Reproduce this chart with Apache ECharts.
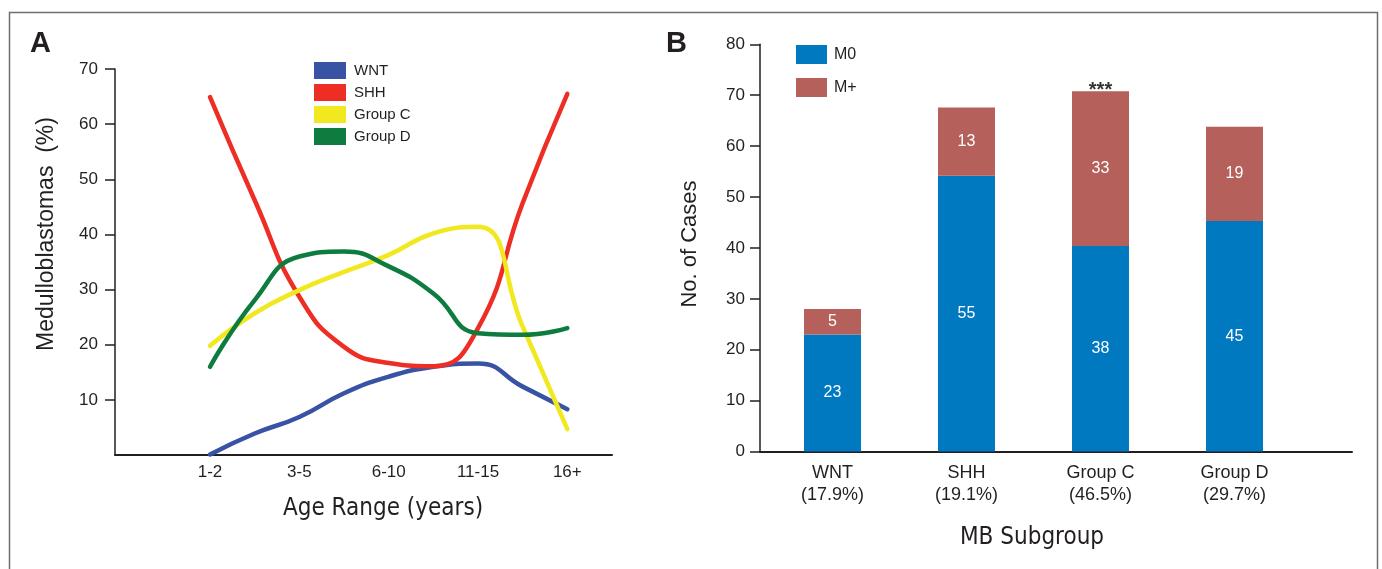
<!DOCTYPE html>
<html>
<head>
    <meta charset="utf-8">
    <title>Medulloblastoma subgroups</title>
    <script src="https://cdn.jsdelivr.net/npm/echarts@6/dist/echarts.min.js"></script>
    <style>
        html, body { margin: 0; padding: 0; background: #fff; }
    </style>
</head>
<body>
    <div id="main" style="width: 1382px;height:569px;"></div>
    <script type="text/javascript">
        // panel A - age distribution (%), curves read at every half age step
        var ageRanges = ['1-2', '3-5', '6-10', '11-15', '16+'];
        var curveX = [1, 1.5, 2, 2.5, 3, 3.5, 4, 4.5, 5];
        var wnt = [0.1, 3.9, 6.9, 11.2, 14.2, 16.0, 16.6, 12.4, 8.3];
        var shh = [64.9, 46.2, 28.7, 19.6, 16.7, 16.1, 23.0, 45.7, 65.5];
        var groupC = [19.8, 25.7, 29.9, 33.2, 36.3, 40.2, 41.4, 23.3, 4.7];
        var groupD = [16.0, 28.1, 36.0, 36.9, 34.2, 29.3, 22.1, 21.8, 23.0];
        var ageTicks = [10, 20, 30, 40, 50, 60, 70];

        // panel B - metastatic status
        var subgroups = ['WNT', 'SHH', 'Group C', 'Group D'];
        var subgroupPct = ['17.9%', '19.1%', '46.5%', '29.7%'];
        var m0 = [23, 54.2, 40.4, 45.3];
        var mPlus = [5, 13.4, 30.4, 18.5];
        var m0Labels = ['23', '55', '38', '45'];
        var mPlusLabels = ['5', '13', '33', '19'];
        var signif = ['', '', '***', ''];

        var dark = '#231f20';
        var sans = "'Liberation Sans', Arial, sans-serif";
        var narrow = "'Liberation Sans Narrow', 'DejaVu Sans Condensed', 'Liberation Sans', sans-serif";

        var myChart = echarts.init(document.getElementById('main'));

        function lineSeries(name, vals, color) {
            return {
                name: name,
                type: 'line',
                xAxisIndex: 0,
                yAxisIndex: 0,
                data: vals.map(function (v, i) { return [curveX[i], v]; }),
                smooth: 0.5,
                showSymbol: false,
                color: color,
                lineStyle: { width: 4.5, color: color, cap: 'round' },
                silent: true
            };
        }
        function barLabel(texts, pos) {
            return {
                show: true, position: pos || 'inside', color: '#fff', fontSize: 16, fontFamily: sans,
                formatter: function (p) { return texts[p.dataIndex]; }
            };
        }

        var option = {
            animation: false,
            graphic: [
                { type: 'rect', shape: { x: 9.5, y: 12.5, width: 1368, height: 620 },
                  style: { fill: 'none', stroke: '#6d6e71', lineWidth: 1.5 } },
                { type: 'text', x: 30, y: 29, style: { text: 'A', font: 'bold 29px ' + sans, fill: dark } },
                { type: 'text', x: 666, y: 29, style: { text: 'B', font: 'bold 29px ' + sans, fill: dark } },
                { type: 'text', x: 47, y: 234, rotation: Math.PI / 2,
                  style: { text: 'Medulloblastomas  (%)', font: '23px ' + sans, fill: dark, align: 'center', verticalAlign: 'middle' } },
                { type: 'text', x: 383, y: 509,
                  style: { text: 'Age Range (years)', font: '24px ' + narrow, fill: dark, align: 'center', verticalAlign: 'middle' } },
                { type: 'text', x: 690, y: 244, rotation: Math.PI / 2,
                  style: { text: 'No. of Cases', font: '22px ' + sans, fill: dark, align: 'center', verticalAlign: 'middle' } },
                { type: 'text', x: 1032, y: 538,
                  style: { text: 'MB Subgroup', font: '24px ' + narrow, fill: dark, align: 'center', verticalAlign: 'middle' } }
            ],
            legend: [{
                data: ['WNT', 'SHH', 'Group C', 'Group D'],
                orient: 'vertical',
                left: 314,
                top: 62,
                padding: 0,
                icon: 'rect',
                itemWidth: 32,
                itemHeight: 17,
                itemGap: 5,
                selectedMode: false,
                textStyle: { color: dark, fontSize: 15, fontFamily: sans, padding: [0, 0, 0, 3] }
            }, {
                data: ['M0', 'M+'],
                orient: 'vertical',
                left: 796,
                top: 45,
                padding: 0,
                icon: 'rect',
                itemWidth: 31,
                itemHeight: 19,
                itemGap: 14,
                selectedMode: false,
                textStyle: { color: dark, fontSize: 16, fontFamily: sans, padding: [0, 0, 0, 2] }
            }],
            grid: [
                { left: 115, top: 69, right: 770, bottom: 114 },
                // bars: 4 bands of 134px
                { left: 765.5, top: 44.3, right: 80.5, bottom: 117.4 },
                // axes of panel B
                { left: 760, top: 44.3, right: 30, bottom: 117.4 }
            ],
            xAxis: [{
                gridIndex: 0,
                type: 'value',
                min: -0.064,
                max: 5.5,
                splitLine: { show: false },
                axisLine: { show: true, onZero: false, lineStyle: { color: dark, width: 2 } },
                axisTick: { show: false },
                axisLabel: {
                    customValues: [1, 2, 3, 4, 5],
                    formatter: function (v) { return ageRanges[Math.round(v) - 1]; },
                    color: dark, fontSize: 17, fontFamily: sans, margin: 9
                }
            }, {
                gridIndex: 1,
                type: 'category',
                data: subgroups,
                axisLine: { show: false },
                axisTick: { show: false },
                axisLabel: {
                    formatter: function (v, i) { return v + '\n(' + subgroupPct[i] + ')'; },
                    color: dark, fontSize: 18, fontFamily: sans, lineHeight: 22, margin: 10
                }
            }, {
                gridIndex: 2,
                type: 'value',
                min: 0,
                max: 1,
                splitLine: { show: false },
                axisLine: { show: true, onZero: false, lineStyle: { color: dark, width: 2 } },
                axisTick: { show: false },
                axisLabel: { show: false }
            }],
            yAxis: [{
                gridIndex: 0,
                type: 'value',
                min: 0,
                max: 70,
                interval: 10,
                splitLine: { show: false },
                axisLine: { show: true, onZero: false, lineStyle: { color: dark, width: 1.5 } },
                axisTick: { show: true, length: 10, customValues: ageTicks, lineStyle: { color: dark, width: 1.5 } },
                axisLabel: { customValues: ageTicks, color: dark, fontSize: 17, fontFamily: sans, margin: 17 }
            }, {
                gridIndex: 1,
                type: 'value',
                min: 0,
                max: 80,
                show: false
            }, {
                gridIndex: 2,
                type: 'value',
                min: 0,
                max: 80,
                interval: 10,
                splitLine: { show: false },
                axisLine: { show: true, onZero: false, lineStyle: { color: dark, width: 1.5 } },
                axisTick: { show: true, length: 10, lineStyle: { color: dark, width: 1.5 } },
                axisLabel: { color: dark, fontSize: 17, fontFamily: sans, margin: 15 }
            }],
            series: [
                lineSeries('WNT', wnt, '#3953a4'),
                lineSeries('SHH', shh, '#ee2d24'),
                lineSeries('Group C', groupC, '#f2e81f'),
                lineSeries('Group D', groupD, '#0e7c3e'),
                {
                    name: 'M0',
                    type: 'bar',
                    xAxisIndex: 1,
                    yAxisIndex: 1,
                    stack: 'mb',
                    barWidth: 57,
                    color: '#0079c1',
                    data: m0,
                    label: barLabel(m0Labels),
                    silent: true
                },
                {
                    name: 'M+',
                    type: 'bar',
                    xAxisIndex: 1,
                    yAxisIndex: 1,
                    stack: 'mb',
                    barWidth: 57,
                    color: '#b5605a',
                    data: mPlus,
                    label: barLabel(mPlusLabels),
                    silent: true
                },
                {
                    name: 'sig',
                    type: 'bar',
                    xAxisIndex: 1,
                    yAxisIndex: 1,
                    stack: 'mb',
                    barWidth: 57,
                    itemStyle: { color: 'transparent' },
                    data: signif.map(function () { return 0; }),
                    label: {
                        show: true, position: 'top', distance: 0, offset: [0, 9],
                        color: '#333', fontSize: 20, fontWeight: 'bold', fontFamily: sans,
                        formatter: function (p) { return signif[p.dataIndex]; }
                    },
                    silent: true
                }
            ]
        };

        myChart.setOption(option);
    </script>
</body>
</html>
